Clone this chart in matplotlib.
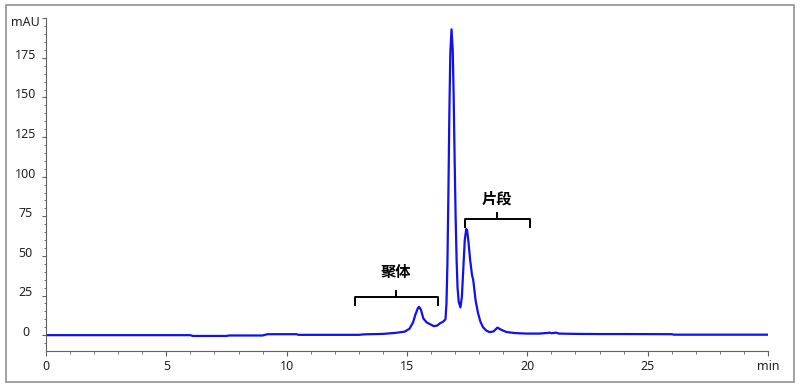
import matplotlib.pyplot as plt
from matplotlib.patches import Rectangle
from matplotlib.transforms import ScaledTranslation

plt.rcParams['font.family'] = ['Noto Sans CJK SC', 'DejaVu Sans']

# chromatogram trace (time in min, absorbance in mAU)
time_min = [0.0, 6.0, 6.1, 7.5, 7.6, 9.0, 9.2, 10.4, 10.5, 13.0, 13.2, 14.0,
            14.5, 14.9, 15.1, 15.25, 15.35, 15.45, 15.5, 15.58, 15.68, 15.82,
            15.95, 16.11, 16.25, 16.36, 16.5, 16.6, 16.64, 16.68, 16.72,
            16.76, 16.8, 16.85, 16.9, 16.94, 16.98, 17.02, 17.06, 17.1,
            17.15, 17.22, 17.28, 17.34, 17.4, 17.46, 17.5, 17.56, 17.62,
            17.7, 17.75, 17.85, 17.95, 18.05, 18.16, 18.3, 18.44, 18.6,
            18.76, 18.9, 19.13, 19.5, 19.96, 20.5, 20.85, 20.93, 21.0, 21.2,
            21.3, 22.0, 23.0, 24.0, 26.0, 26.1, 30.0]
absorb_mau = [0.0, 0.0, -0.5, -0.5, -0.2, -0.2, 0.6, 0.6, 0.2, 0.2, 0.5, 0.8,
              1.4, 2.2, 4.0, 8.0, 13.0, 17.0, 17.9, 16.0, 10.5, 8.0,
              7.0, 5.7, 6.0, 7.4, 8.5, 10.0, 20.0, 45.0, 90.0,
              140.0, 178.0, 193.0, 180.0, 150.0, 110.0, 75.0, 48.0, 30.0,
              21.0, 17.5, 24.0, 42.0, 60.0, 67.0, 66.0, 58.0, 48.0,
              38.0, 35.0, 22.0, 14.0, 8.5, 5.0, 2.8, 1.9, 2.4,
              4.8, 3.5, 2.0, 1.3, 1.0, 1.0, 1.4, 1.6, 1.2, 1.6,
              1.0, 0.8, 0.7, 0.7, 0.6, 0.3, 0.3]

x_ticks = [0, 5, 10, 15, 20, 25]
y_ticks = [0, 25, 50, 75, 100, 125, 150, 175]

# brackets: (start, end, level, label, label level)
brackets = [(12.83, 16.28, 24.0, '聚体', 40.0),
            (17.40, 20.10, 73.0, '片段', 86.0)]

fig = plt.figure(figsize=(8, 3.87), dpi=100)
fig.patches.append(Rectangle((0.007, 0.013), 0.986, 0.975, transform=fig.transFigure,
                             fill=False, edgecolor='#909090', linewidth=1.2))
ax = fig.add_axes([0.0575, 0.093, 0.9025, 0.86])

ax.plot(time_min, absorb_mau, color='#1010f0', linewidth=1.6)

for x0, x1, lvl, txt, ty in brackets:
    mid = (x0 + x1) / 2
    ax.plot([x0, x0, x1, x1], [lvl - 5, lvl, lvl, lvl - 5], color='black', lw=1.4)
    ax.plot([mid, mid], [lvl, lvl + 4], color='black', lw=1.4)
    ax.text(mid, ty, txt, ha='center', va='center', fontsize=11, fontweight='bold')

ax.set_xlim(0, 30)
ax.set_ylim(-10, 200)

ax.set_xticks(x_ticks + [30])
ax.set_xticklabels([str(t) for t in x_ticks] + ['min'], family='Noto Sans')
ax.set_xticks(range(0, 30), minor=True)
ax.set_yticks(y_ticks + [200])
ax.set_yticklabels([str(t) for t in y_ticks] + ['mAU'], family='Noto Sans', ha='center')
ax.set_yticks(range(-5, 200, 5), minor=True)

for s in ['top', 'right']:
    ax.spines[s].set_visible(False)
for s in ['left', 'bottom']:
    ax.spines[s].set_color('#606060')
ax.tick_params(which='both', color='#606060', labelsize=9, labelcolor='#222222')
ax.tick_params(axis='y', which='major', length=3, pad=11.5)
ax.tick_params(axis='y', which='minor', length=1.5)
ax.tick_params(axis='x', which='major', length=3.5, pad=3)
ax.tick_params(axis='x', which='minor', length=2)

# y labels sit slightly above their ticks in the original, the unit label a bit below
up = ScaledTranslation(0, 3 / 72, fig.dpi_scale_trans)
down = ScaledTranslation(0, -2 / 72, fig.dpi_scale_trans)
for lab in ax.get_yticklabels():
    lab.set_transform(lab.get_transform() + (down if lab.get_text() == 'mAU' else up))

fig.savefig('out.png', dpi=100)
